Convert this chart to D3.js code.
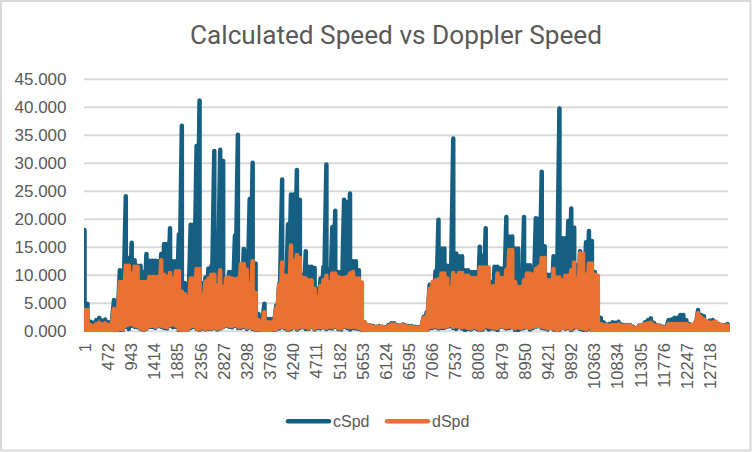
<!DOCTYPE html>
<html>
<head>
<meta charset="utf-8">
<script src="https://cdn.jsdelivr.net/npm/d3@7"></script>
<style>
  html, body { margin: 0; padding: 0; background: #fff; }
  svg { display: block; }
  text { font-family: "Liberation Sans", Arial, sans-serif; fill: #595959; }
</style>
</head>
<body>
<svg id="chart" width="752" height="452"></svg>
<script>
const xTickLabels = [1, 472, 943, 1414, 1885, 2356, 2827, 3298, 3769, 4240, 4711, 5182, 5653, 6124, 6595,
  7066, 7537, 8008, 8479, 8950, 9421, 9892, 10363, 10834, 11305, 11776, 12247, 12718]
const yTickLabels = [0, 5, 10, 15, 20, 25, 30, 35, 40, 45]

// values, highest and lowest per 60 records
const cSpdMax = [
  18.0,4.8,1.6,1.4,1.9,2.3,1.8,2.0,1.5,1.6,
  5.5,4.4,10.8,9.5,24.0,13.0,15.7,12.6,11.6,11.6,
  10.5,13.7,12.5,12.5,12.5,12.4,13.7,15.5,15.5,18.3,
  12.4,12.4,17.2,36.6,8.5,7.8,18.9,18.9,33.0,41.1,
  8.5,9.5,11.1,11.5,32.1,9.0,32.3,30.3,9.0,10.5,
  10.5,17.0,35.0,10.3,14.6,14.2,23.5,30.0,12.0,3.0,
  1.8,4.8,2.1,2.1,2.1,4.5,8.4,27.0,10.8,19.0,
  24.3,24.3,28.7,23.4,10.0,14.2,11.4,11.4,11.2,7.5,
  9.3,11.4,29.7,11.0,18.5,21.4,10.5,10.5,23.4,23.0,
  24.5,12.4,12.4,10.8,8.5,1.5,1.0,0.9,0.8,0.7,
  0.8,0.7,0.6,1.0,1.3,1.3,1.0,0.9,1.1,0.9,
  0.8,0.8,0.7,0.6,0.7,2.5,3.3,8.2,8.2,10.6,
  19.8,14.7,14.7,11.6,11.6,34.3,13.8,13.3,13.3,10.8,
  10.8,10.5,10.5,10.5,15.0,13.4,18.3,8.7,8.7,11.4,
  11.4,11.1,11.1,20.3,16.8,16.8,14.7,14.7,9.5,20.3,
  11.7,11.7,11.0,20.1,20.0,28.4,15.1,10.0,10.0,13.3,
  10.0,39.7,16.5,16.5,19.6,21.8,18.4,11.7,14.2,10.0,
  15.8,17.8,16.0,10.5,7.5,2.3,1.5,1.1,1.2,1.5,
  1.4,1.6,1.1,1.0,1.0,1.0,0.7,0.4,0.9,1.0,
  1.5,1.9,2.2,1.4,1.0,0.9,0.7,0.5,1.9,2.0,
  2.3,2.3,2.8,2.8,1.9,1.2,1.0,1.2,3.7,2.8,
  2.6,1.6,1.8,1.9,1.3,1.2,1.0,1.0,1.2]
const cSpdMin = [
  0.1,0.1,0.1,0.1,0.1,0.1,0.1,0.1,0.1,0.1,
  0.1,0.1,0.1,0.1,0.7,0.3,0.9,0.7,0.6,0.3,
  0.1,0.3,0.7,0.7,0.5,0.8,0.7,0.5,0.4,0.9,
  0.6,0.7,0.0,0.1,0.1,0.2,0.5,0.7,0.3,0.1,
  0.4,0.2,0.3,0.3,0.5,0.2,0.4,0.6,0.9,0.7,
  0.6,0.9,0.5,0.5,0.7,0.3,0.6,0.3,0.1,0.1,
  0.1,0.1,0.1,0.1,0.1,0.2,0.4,0.6,0.4,0.0,
  0.3,0.6,0.2,0.5,0.6,0.3,0.3,0.7,0.2,0.5,
  0.4,0.6,0.3,0.5,0.4,0.7,0.3,0.2,0.7,0.5,
  0.2,0.5,0.4,0.3,0.1,0.1,0.1,0.1,0.1,0.1,
  0.1,0.1,0.1,0.1,0.1,0.1,0.1,0.1,0.1,0.1,
  0.1,0.1,0.1,0.1,0.1,0.1,0.1,0.4,0.5,0.6,
  0.4,0.5,0.5,0.7,0.8,0.5,0.3,0.6,0.4,0.1,
  0.3,0.2,0.5,0.3,0.0,0.2,0.6,0.2,0.4,0.3,
  0.1,0.7,0.6,0.4,0.5,0.6,0.1,0.1,0.3,0.5,
  0.6,0.2,0.5,0.7,0.8,0.5,0.4,0.2,0.6,0.2,
  0.0,0.1,0.6,0.3,0.5,0.1,0.5,0.6,0.3,0.1,
  0.0,0.4,0.0,0.1,0.0,0.1,0.1,0.1,0.1,0.1,
  0.1,0.1,0.1,0.1,0.1,0.1,0.1,0.1,0.1,0.1,
  0.1,0.1,0.1,0.1,0.1,0.1,0.1,0.1,0.1,0.1,
  0.1,0.1,0.1,0.1,0.1,0.1,0.1,0.1,0.1,0.1,
  0.1,0.1,0.1,0.1,0.1,0.1,0.1,0.1,0.1]
const dSpdMax = [
  3.7,3.7,1.0,0.8,1.2,1.4,1.1,1.3,1.0,1.0,
  3.9,3.4,8.7,8.7,11.6,11.6,10.2,11.4,11.4,8.7,
  8.7,8.7,9.6,9.6,9.6,9.6,12.6,10.0,9.6,10.3,
  9.3,10.6,10.6,7.0,6.5,6.0,9.3,9.3,11.0,11.0,
  6.4,8.8,9.3,10.0,10.0,8.0,10.8,7.8,9.3,9.5,
  9.3,9.2,9.3,11.9,11.9,10.9,8.4,12.4,6.8,1.9,
  1.0,3.3,1.5,1.5,1.5,4.0,8.2,12.2,9.8,9.8,
  15.2,12.5,13.5,13.0,9.5,9.3,9.0,9.0,7.5,6.0,
  8.0,9.0,9.8,8.6,10.2,10.2,9.6,9.4,9.4,9.6,
  10.2,10.5,9.3,9.3,8.6,1.5,1.0,0.8,0.7,0.6,
  0.7,0.7,0.5,0.8,1.1,1.1,0.9,0.8,1.0,0.8,
  0.7,0.7,0.6,0.5,0.6,2.3,2.6,7.5,8.7,9.0,
  9.2,10.2,10.2,9.3,7.7,10.3,9.8,10.3,10.3,9.8,
  9.8,9.4,9.4,9.4,11.3,11.3,11.3,11.3,7.9,8.0,
  10.2,9.4,9.4,10.9,14.4,14.4,8.7,7.8,7.8,9.0,
  10.2,10.2,10.0,11.0,11.4,13.0,13.0,9.0,9.0,11.0,
  9.5,9.5,9.0,9.8,9.8,10.8,12.2,9.4,13.8,13.8,
  10.0,12.0,12.0,10.0,9.8,1.2,1.0,1.0,0.9,1.0,
  1.0,1.1,0.9,0.9,0.9,0.9,0.6,0.4,0.8,1.0,
  1.2,1.3,1.4,1.0,0.9,0.8,0.6,0.5,1.2,1.2,
  1.2,1.2,1.2,1.2,1.2,1.0,1.0,1.5,3.1,2.4,
  2.0,1.6,1.4,1.5,1.6,1.1,1.0,0.9,0.9]
const dSpdMin = [
  0.1,0.1,0.1,0.1,0.1,0.1,0.1,0.1,0.1,0.1,
  0.1,0.1,0.3,0.2,0.9,1.1,1.2,0.9,0.8,0.4,
  0.2,0.4,0.8,0.9,0.7,0.9,0.9,0.7,0.6,1.0,
  1.1,0.9,0.2,0.1,0.1,0.2,0.7,0.9,0.4,0.2,
  0.6,0.3,0.4,0.4,0.6,0.4,0.5,0.7,1.0,0.9,
  0.8,1.0,0.7,0.7,0.9,0.5,0.7,0.5,0.2,0.2,
  0.1,0.1,0.1,0.1,0.2,0.3,0.6,0.7,0.6,0.2,
  0.5,0.7,0.4,0.7,0.7,0.6,0.4,0.8,0.4,0.7,
  0.6,0.7,0.5,0.7,0.6,0.8,0.5,0.4,0.8,0.7,
  0.6,0.7,0.6,0.5,0.2,0.1,0.1,0.1,0.1,0.1,
  0.1,0.1,0.1,0.1,0.1,0.1,0.1,0.1,0.1,0.1,
  0.1,0.1,0.1,0.1,0.1,0.1,0.1,0.6,0.7,0.8,
  0.6,0.7,0.7,0.8,1.0,0.7,0.8,0.7,0.6,0.7,
  0.5,0.4,0.7,0.5,0.2,0.4,0.8,0.7,0.6,0.4,
  0.5,0.8,0.7,0.6,0.7,0.7,0.4,0.6,0.4,0.7,
  0.7,0.5,0.7,0.8,0.9,0.7,0.6,0.4,0.7,0.4,
  0.1,0.2,0.7,0.4,0.6,0.3,0.7,0.7,0.5,0.4,
  0.2,0.6,0.1,0.1,0.1,0.1,0.1,0.1,0.1,0.1,
  0.1,0.1,0.1,0.1,0.1,0.1,0.1,0.1,0.1,0.1,
  0.1,0.1,0.1,0.1,0.1,0.1,0.1,0.1,0.1,0.1,
  0.1,0.1,0.1,0.1,0.1,0.1,0.1,0.1,0.1,0.1,
  0.1,0.1,0.1,0.1,0.1,0.1,0.1,0.1,0.1]
const seriesNames = ["cSpd", "dSpd"]
const seriesColors = ["#156082", "#e97132"]

const svg = d3.select("#chart")

// chart frame
svg.append("rect")
  .attr("x", 1).attr("y", 1).attr("width", 749.5).attr("height", 449.5)
  .attr("fill", "#fff").attr("stroke", "#d9d9d9").attr("stroke-width", 2)

svg.append("text")
  .attr("x", 396).attr("y", 44)
  .attr("text-anchor", "middle")
  .attr("textLength", 412).attr("lengthAdjust", "spacingAndGlyphs")
  .style("font-family", "Roboto")
  .style("font-size", "26px")
  .text("Calculated Speed vs Doppler Speed")

const recordNo = cSpdMax.map((d, i) => 1 + i * 60)
const x = d3.scaleLinear().domain([1, recordNo[recordNo.length - 1]]).range([84.5, 727.6])
const y = d3.scaleLinear().domain([0, 45]).range([330.7, 78.7])

const yAxis = svg.append("g")
  .attr("transform", "translate(84,0)")
  .call(d3.axisLeft(y).tickValues(yTickLabels).tickFormat(d3.format(".3f")).tickSize(-644).tickPadding(17.5))
yAxis.select(".domain").remove()
yAxis.selectAll(".tick line").attr("stroke", "#d9d9d9").attr("stroke-width", 1.9)
yAxis.selectAll("text").style("font-size", "17px")

const xAxis = svg.append("g")
  .attr("transform", "translate(0,330.7)")
  .call(d3.axisBottom(x).tickValues(xTickLabels).tickFormat(d3.format("d")).tickSize(0))
xAxis.select(".domain").remove()
xAxis.selectAll("text")
  .attr("transform", "rotate(-90)")
  .attr("text-anchor", "end")
  .attr("x", -12.3).attr("y", 0).attr("dy", "0.35em")
  .style("font-size", "16.5px")

svg.append("clipPath").attr("id", "plot-clip")
  .append("rect").attr("x", 84).attr("y", 60).attr("width", 646).attr("height", 272)

// each bin draws from its high to its low, like the dense trace in the original
const zigzag = (hi, lo) => recordNo.flatMap((r, i) => [[r, hi[i]], [r, lo[i]]])
const line = d3.line().x(d => x(d[0])).y(d => y(d[1]))

const plot = svg.append("g").attr("clip-path", "url(#plot-clip)")
plot.selectAll("path")
  .data([zigzag(cSpdMax, cSpdMin), zigzag(dSpdMax, dSpdMin)])
  .enter()
  .append("path")
  .attr("d", line)
  .attr("fill", "none")
  .attr("stroke", (d, i) => seriesColors[i])
  .attr("stroke-width", 4.5)
  .attr("stroke-linejoin", "round")
  .attr("stroke-linecap", "round")

const legend = svg.selectAll("g.legend")
  .data(seriesNames)
  .enter()
  .append("g")
  .attr("class", "legend")
  .attr("transform", (d, i) => `translate(${i === 0 ? 288 : 387},421.3)`)
legend.append("line")
  .attr("x1", 0).attr("x2", 41)
  .attr("stroke", (d, i) => seriesColors[i])
  .attr("stroke-width", 4.5)
  .attr("stroke-linecap", "round")
legend.append("text")
  .attr("x", 45).attr("dy", "0.35em")
  .style("font-size", "16px")
  .text(d => d)
</script>
</body>
</html>
